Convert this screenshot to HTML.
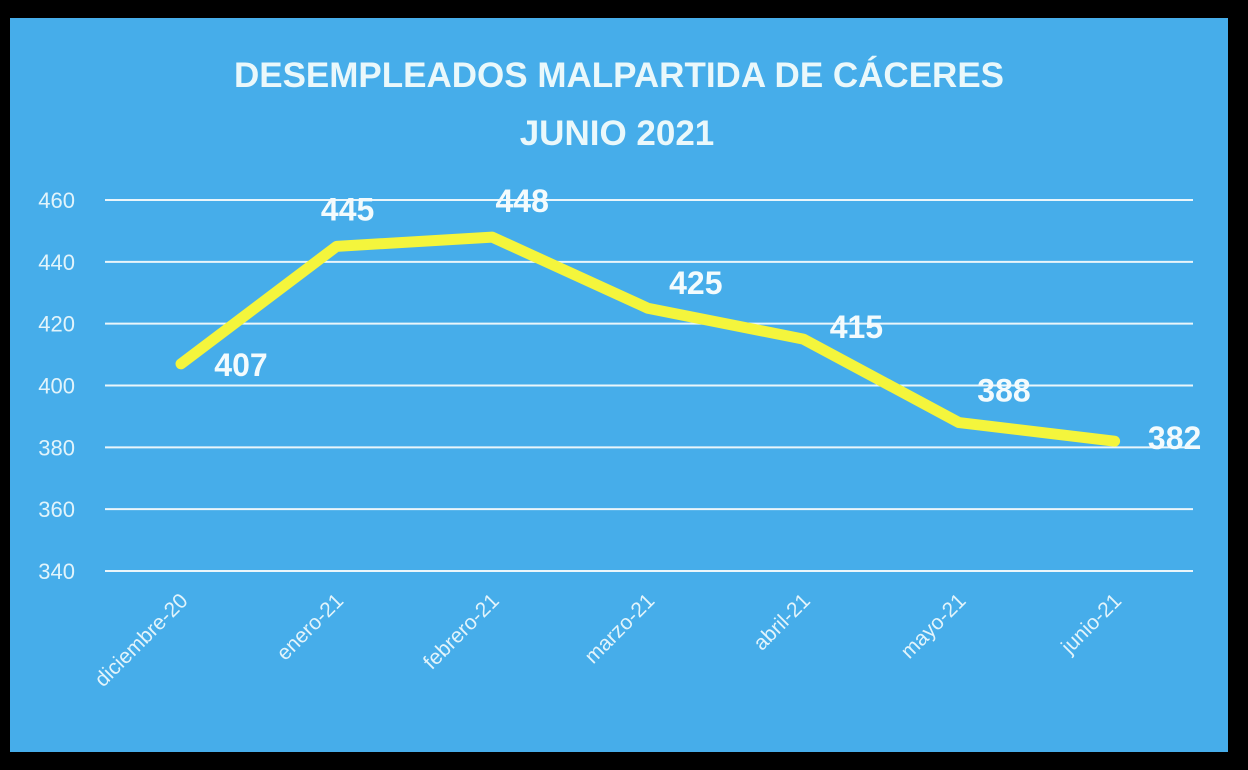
<!DOCTYPE html>
<html><head><meta charset="utf-8"><style>
body{margin:0;background:#000;width:1248px;height:770px;overflow:hidden}
svg{display:block}
text{font-family:"Liberation Sans",sans-serif}
</style></head><body>
<svg width="1248" height="770">
<rect x="0" y="0" width="1248" height="770" fill="#000"/>
<rect x="10" y="18" width="1218" height="734" fill="#46adea"/>
<text x="619" y="87" text-anchor="middle" font-size="35" font-weight="bold" fill="#eaf8fb">DESEMPLEADOS MALPARTIDA DE CÁCERES</text>
<text x="617" y="145" text-anchor="middle" font-size="35" font-weight="bold" fill="#eaf8fb">JUNIO 2021</text>
<g id="grid"></g><g id="xl"></g><g id="series"></g>
</svg>
<script>
const categories=["diciembre-20","enero-21","febrero-21","marzo-21","abril-21","mayo-21","junio-21"];
const values=[407,445,448,425,415,388,382];
const ticks=[340,360,380,400,420,440,460];
const labelOffsets=[[60,0],[11,-38],[30,-37],[48,-26],[53,-13],[45,-33],[60,-4]];
const ns="http://www.w3.org/2000/svg";
const X0=181,XS=155.6,x=i=>X0+i*XS;
const y=v=>571-(v-340)*(371/120);
const g=document.getElementById('grid'),xl=document.getElementById('xl'),s=document.getElementById('series');
function mk(t,a,p){const e=document.createElementNS(ns,t);for(const k in a)e.setAttribute(k,a[k]);p.appendChild(e);return e;}
ticks.forEach(t=>{
 const l=mk('line',{x1:105,x2:1193,y1:y(t),y2:y(t),stroke:'#eaf6fb','stroke-width':2},g);
 
 
 const tx=mk('text',{x:75,y:y(t)+8,'text-anchor':'end','font-size':22,fill:'#e2f4fb'},g);
 tx.textContent=t;
 
 
});
categories.forEach((c,i)=>{
 const tx=mk('text',{x:0,y:0,'text-anchor':'end','font-size':21,fill:'#e2f4fb',transform:`translate(${x(i)+8},${602}) rotate(-45)`},xl);
 tx.textContent=c;
 
 
});
const pl=mk('polyline',{points:values.map((v,i)=>x(i)+','+y(v)).join(' '),fill:'none',stroke:'#f4f53c','stroke-width':11,'stroke-linejoin':'round','stroke-linecap':'round'},s);


values.forEach((v,i)=>{
 const o=labelOffsets[i];
 const tx=mk('text',{x:x(i)+o[0],y:y(v)+o[1]+12,'text-anchor':'middle','font-size':32,'font-weight':'bold',fill:'#f3fbfd'},s);
 tx.textContent=v;
 
 
});
</script>
</body></html>
